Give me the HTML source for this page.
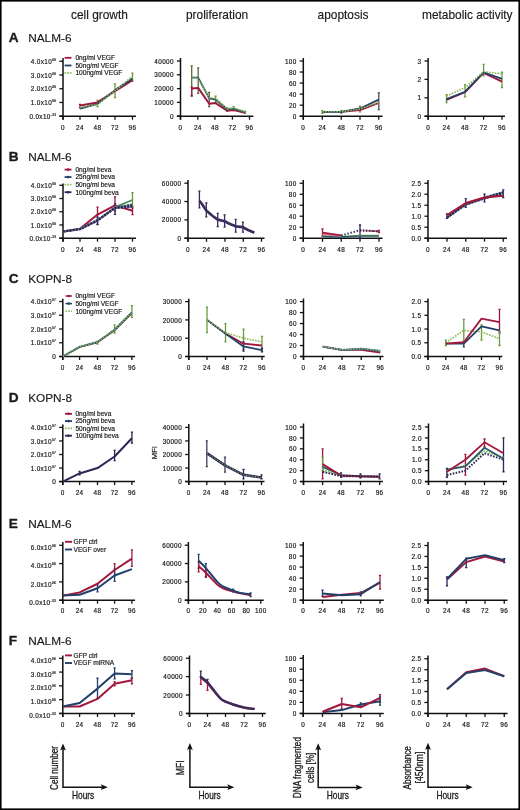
<!DOCTYPE html>
<html><head><meta charset="utf-8"><title>Figure</title>
<style>
html,body{margin:0;padding:0;background:#fff;}
body{width:520px;height:810px;overflow:hidden;}
svg{display:block;filter:blur(0.3px);font-family:"Liberation Sans",sans-serif;}
svg text{fill:#1a1a1a;stroke:#1a1a1a;stroke-width:0.18px;}
.t{letter-spacing:0.35px;}
.h{stroke-width:0.15px;}
.s{stroke-width:0.3px;}
.b{stroke-width:0.35px;}
</style></head><body>
<svg width="520" height="810" viewBox="0 0 520 810">
<rect x="0" y="0" width="520" height="810" fill="#fff"/>
<text x="71" y="18.5" font-size="11.9" class="h">cell growth</text>
<text x="186" y="18.5" font-size="11.9" class="h">proliferation</text>
<text x="317.6" y="18.5" font-size="11.9" class="h">apoptosis</text>
<text x="422" y="18.5" font-size="11.9" class="h">metabolic activity</text>
<text x="8.8" y="41.8" font-size="13.6" font-weight="bold" class="b">A</text>
<text x="28.2" y="41.6" font-size="11.8" class="h">NALM-6</text>
<path d="M63 58V119.7 M59.4 116.2H136" stroke="#111" stroke-width="1.5" fill="none"/>
<path d="M59.4 116.2H63" stroke="#111" stroke-width="1.3"/>
<text x="56.4" y="118.8" text-anchor="end" class="t" font-size="6.4">0.0x10<tspan font-size="3.2" dy="-3">-33</tspan></text>
<path d="M59.4 102.46H63" stroke="#111" stroke-width="1.3"/>
<text x="56.4" y="105.06" text-anchor="end" class="t" font-size="6.4">1.0x10<tspan font-size="3.2" dy="-3">06</tspan></text>
<path d="M59.4 88.72H63" stroke="#111" stroke-width="1.3"/>
<text x="56.4" y="91.32" text-anchor="end" class="t" font-size="6.4">2.0x10<tspan font-size="3.2" dy="-3">06</tspan></text>
<path d="M59.4 74.99H63" stroke="#111" stroke-width="1.3"/>
<text x="56.4" y="77.59" text-anchor="end" class="t" font-size="6.4">3.0x10<tspan font-size="3.2" dy="-3">06</tspan></text>
<path d="M59.4 61.25H63" stroke="#111" stroke-width="1.3"/>
<text x="56.4" y="63.85" text-anchor="end" class="t" font-size="6.4">4.0x10<tspan font-size="3.2" dy="-3">06</tspan></text>
<path d="M63 116.2V119.7" stroke="#111" stroke-width="1.3"/>
<text x="63" y="130" text-anchor="middle" class="t" font-size="6.4">0</text>
<path d="M80 116.2V119.7" stroke="#111" stroke-width="1.3"/>
<text x="80" y="130" text-anchor="middle" class="t" font-size="6.4">24</text>
<path d="M97.5 116.2V119.7" stroke="#111" stroke-width="1.3"/>
<text x="97.5" y="130" text-anchor="middle" class="t" font-size="6.4">48</text>
<path d="M115 116.2V119.7" stroke="#111" stroke-width="1.3"/>
<text x="115" y="130" text-anchor="middle" class="t" font-size="6.4">72</text>
<path d="M132.5 116.2V119.7" stroke="#111" stroke-width="1.3"/>
<text x="132.5" y="130" text-anchor="middle" class="t" font-size="6.4">96</text>
<path d="M80 107.96V104.52 M78.9 107.96H81.1 M78.9 104.52H81.1" stroke="#a1183c" stroke-width="1.3" fill="none"/>
<path d="M97.5 106.58V100.4 M96.4 106.58H98.6 M96.4 100.4H98.6" stroke="#6a9a40" stroke-width="1.3" fill="none"/>
<path d="M115 97.52V83.78 M113.9 97.52H116.1 M113.9 83.78H116.1" stroke="#6a9a40" stroke-width="1.3" fill="none"/>
<path d="M132.5 81.31V73.06 M131.4 81.31H133.6 M131.4 73.06H133.6" stroke="#6a9a40" stroke-width="1.3" fill="none"/>
<path d="M80 105.48 L97.5 102.46 L115 91.2 L132.5 80.21" stroke="#a1183c" stroke-width="2" fill="none" stroke-linejoin="round"/>
<path d="M80 108.64 L97.5 103.84 L115 90.1 L132.5 78.42" stroke="#22406a" stroke-width="1.8" fill="none" stroke-linejoin="round"/>
<path d="M80 107.27 L97.5 104.52 L115 90.79 L132.5 76.36" stroke="#86b84e" stroke-width="1.8" fill="none" stroke-linejoin="round" stroke-dasharray="1.6 1.2"/>
<path d="M64.6 57.8H71.5" stroke="#a1183c" stroke-width="1.8"/>
<text x="75.4" y="60.1" font-size="6.6">0ng/ml VEGF</text>
<path d="M64.6 65.5H71.5" stroke="#22406a" stroke-width="1.8"/>
<text x="75.4" y="67.8" font-size="6.6">50ng/ml VEGF</text>
<path d="M64.6 72.8H71.5" stroke="#86b84e" stroke-width="1.8" stroke-dasharray="1.6 1.2"/>
<text x="75.4" y="75.1" font-size="6.6">100ng/ml VEGF</text>
<path d="M180.5 58V119.7 M176.9 116.2H253.4" stroke="#111" stroke-width="1.5" fill="none"/>
<path d="M176.9 116.2H180.5" stroke="#111" stroke-width="1.3"/>
<text x="173.9" y="118.8" text-anchor="end" class="t" font-size="6.4">0</text>
<path d="M176.9 102.4H180.5" stroke="#111" stroke-width="1.3"/>
<text x="173.9" y="105" text-anchor="end" class="t" font-size="6.4">10000</text>
<path d="M176.9 88.6H180.5" stroke="#111" stroke-width="1.3"/>
<text x="173.9" y="91.2" text-anchor="end" class="t" font-size="6.4">20000</text>
<path d="M176.9 74.8H180.5" stroke="#111" stroke-width="1.3"/>
<text x="173.9" y="77.4" text-anchor="end" class="t" font-size="6.4">30000</text>
<path d="M176.9 61H180.5" stroke="#111" stroke-width="1.3"/>
<text x="173.9" y="63.6" text-anchor="end" class="t" font-size="6.4">40000</text>
<path d="M180.5 116.2V119.7" stroke="#111" stroke-width="1.3"/>
<text x="180.5" y="130" text-anchor="middle" class="t" font-size="6.4">0</text>
<path d="M197.8 116.2V119.7" stroke="#111" stroke-width="1.3"/>
<text x="197.8" y="130" text-anchor="middle" class="t" font-size="6.4">24</text>
<path d="M214.9 116.2V119.7" stroke="#111" stroke-width="1.3"/>
<text x="214.9" y="130" text-anchor="middle" class="t" font-size="6.4">48</text>
<path d="M232.4 116.2V119.7" stroke="#111" stroke-width="1.3"/>
<text x="232.4" y="130" text-anchor="middle" class="t" font-size="6.4">72</text>
<path d="M249.5 116.2V119.7" stroke="#111" stroke-width="1.3"/>
<text x="249.5" y="130" text-anchor="middle" class="t" font-size="6.4">96</text>
<path d="M191.7 95.5V65.97 M190.6 95.5H192.8 M190.6 65.97H192.8" stroke="#5a6a3a" stroke-width="1.3" fill="none"/>
<path d="M198.2 93.43V67.9 M197.1 93.43H199.3 M197.1 67.9H199.3" stroke="#5a6a3a" stroke-width="1.3" fill="none"/>
<path d="M209.2 106.54V92.33 M208.1 106.54H210.3 M208.1 92.33H210.3" stroke="#6a4a3a" stroke-width="1.3" fill="none"/>
<path d="M215.6 102.4V96.19 M214.5 102.4H216.7 M214.5 96.19H216.7" stroke="#6a9a40" stroke-width="1.3" fill="none"/>
<path d="M227.2 111.37V107.92 M226.1 111.37H228.3 M226.1 107.92H228.3" stroke="#6a9a40" stroke-width="1.3" fill="none"/>
<path d="M233.6 110.68V106.54 M232.5 110.68H234.7 M232.5 106.54H234.7" stroke="#6a9a40" stroke-width="1.3" fill="none"/>
<path d="M245.2 113.44V111.37 M244.1 113.44H246.3 M244.1 111.37H246.3" stroke="#6a9a40" stroke-width="1.3" fill="none"/>
<path d="M191.7 96.19V87.22 M190.6 96.19H192.8 M190.6 87.22H192.8" stroke="#a1183c" stroke-width="1.3" fill="none"/>
<path d="M191.7 88.6 L198.2 87.91 L209.2 103.78 L215.6 103.09 L227.2 110.68 L233.6 109.99 L245.2 112.75" stroke="#a1183c" stroke-width="2" fill="none" stroke-linejoin="round"/>
<path d="M191.7 77.56 L198.2 77.56 L209.2 98.26 L215.6 99.64 L227.2 109.3 L233.6 108.61 L245.2 112.06" stroke="#2a5a6a" stroke-width="1.8" fill="none" stroke-linejoin="round"/>
<path d="M191.7 76.87 L198.2 78.94 L209.2 97.57 L215.6 98.26 L227.2 108.61 L233.6 107.92 L245.2 111.78" stroke="#86b84e" stroke-width="1.6" fill="none" stroke-linejoin="round" stroke-dasharray="1.6 1.2"/>
<path d="M303.3 58V119.7 M299.7 116.2H382.6" stroke="#111" stroke-width="1.5" fill="none"/>
<path d="M299.7 116.2H303.3" stroke="#111" stroke-width="1.3"/>
<text x="296.7" y="118.8" text-anchor="end" class="t" font-size="6.4">0</text>
<path d="M299.7 105.16H303.3" stroke="#111" stroke-width="1.3"/>
<text x="296.7" y="107.76" text-anchor="end" class="t" font-size="6.4">20</text>
<path d="M299.7 94.12H303.3" stroke="#111" stroke-width="1.3"/>
<text x="296.7" y="96.72" text-anchor="end" class="t" font-size="6.4">40</text>
<path d="M299.7 83.08H303.3" stroke="#111" stroke-width="1.3"/>
<text x="296.7" y="85.68" text-anchor="end" class="t" font-size="6.4">60</text>
<path d="M299.7 72.04H303.3" stroke="#111" stroke-width="1.3"/>
<text x="296.7" y="74.64" text-anchor="end" class="t" font-size="6.4">80</text>
<path d="M299.7 61H303.3" stroke="#111" stroke-width="1.3"/>
<text x="296.7" y="63.6" text-anchor="end" class="t" font-size="6.4">100</text>
<path d="M303.3 116.2V119.7" stroke="#111" stroke-width="1.3"/>
<text x="303.3" y="130" text-anchor="middle" class="t" font-size="6.4">0</text>
<path d="M322.3 116.2V119.7" stroke="#111" stroke-width="1.3"/>
<text x="322.3" y="130" text-anchor="middle" class="t" font-size="6.4">24</text>
<path d="M341.3 116.2V119.7" stroke="#111" stroke-width="1.3"/>
<text x="341.3" y="130" text-anchor="middle" class="t" font-size="6.4">48</text>
<path d="M360 116.2V119.7" stroke="#111" stroke-width="1.3"/>
<text x="360" y="130" text-anchor="middle" class="t" font-size="6.4">72</text>
<path d="M378.8 116.2V119.7" stroke="#111" stroke-width="1.3"/>
<text x="378.8" y="130" text-anchor="middle" class="t" font-size="6.4">96</text>
<path d="M322.3 113.44V110.68 M321.2 113.44H323.4 M321.2 110.68H323.4" stroke="#6a9a40" stroke-width="1.3" fill="none"/>
<path d="M341.3 113.44V110.68 M340.2 113.44H342.4 M340.2 110.68H342.4" stroke="#6a9a40" stroke-width="1.3" fill="none"/>
<path d="M360 111.78V106.26 M358.9 111.78H361.1 M358.9 106.26H361.1" stroke="#6a9a40" stroke-width="1.3" fill="none"/>
<path d="M378.8 109.58V93.02 M377.7 109.58H379.9 M377.7 93.02H379.9" stroke="#3a5a4a" stroke-width="1.3" fill="none"/>
<path d="M322.3 111.78 L341.3 111.78 L360 110.13 L378.8 102.95" stroke="#a1183c" stroke-width="1.8" fill="none" stroke-linejoin="round"/>
<path d="M322.3 111.78 L341.3 111.78 L360 108.47 L378.8 99.64" stroke="#22406a" stroke-width="1.8" fill="none" stroke-linejoin="round"/>
<path d="M322.3 111.78 L341.3 111.78 L360 109.02 L378.8 102.4" stroke="#86b84e" stroke-width="1.6" fill="none" stroke-linejoin="round" stroke-dasharray="1.6 1.2"/>
<path d="M428.1 58V119.7 M424.5 116.2H505" stroke="#111" stroke-width="1.5" fill="none"/>
<path d="M424.5 116.2H428.1" stroke="#111" stroke-width="1.3"/>
<text x="421.5" y="118.8" text-anchor="end" class="t" font-size="6.4">0</text>
<path d="M424.5 97.8H428.1" stroke="#111" stroke-width="1.3"/>
<text x="421.5" y="100.4" text-anchor="end" class="t" font-size="6.4">1</text>
<path d="M424.5 79.4H428.1" stroke="#111" stroke-width="1.3"/>
<text x="421.5" y="82" text-anchor="end" class="t" font-size="6.4">2</text>
<path d="M424.5 61H428.1" stroke="#111" stroke-width="1.3"/>
<text x="421.5" y="63.6" text-anchor="end" class="t" font-size="6.4">3</text>
<path d="M428.1 116.2V119.7" stroke="#111" stroke-width="1.3"/>
<text x="428.1" y="130" text-anchor="middle" class="t" font-size="6.4">0</text>
<path d="M446.5 116.2V119.7" stroke="#111" stroke-width="1.3"/>
<text x="446.5" y="130" text-anchor="middle" class="t" font-size="6.4">24</text>
<path d="M465 116.2V119.7" stroke="#111" stroke-width="1.3"/>
<text x="465" y="130" text-anchor="middle" class="t" font-size="6.4">48</text>
<path d="M483.6 116.2V119.7" stroke="#111" stroke-width="1.3"/>
<text x="483.6" y="130" text-anchor="middle" class="t" font-size="6.4">72</text>
<path d="M502 116.2V119.7" stroke="#111" stroke-width="1.3"/>
<text x="502" y="130" text-anchor="middle" class="t" font-size="6.4">96</text>
<path d="M446.5 102.58V94.67 M445.4 102.58H447.6 M445.4 94.67H447.6" stroke="#6a9a40" stroke-width="1.3" fill="none"/>
<path d="M465 96.88V84.55 M463.9 96.88H466.1 M463.9 84.55H466.1" stroke="#6a9a40" stroke-width="1.3" fill="none"/>
<path d="M483.6 75.9V64.31 M482.5 75.9H484.7 M482.5 64.31H484.7" stroke="#6a9a40" stroke-width="1.3" fill="none"/>
<path d="M502 87.5V72.04 M500.9 87.5H503.1 M500.9 72.04H503.1" stroke="#6a9a40" stroke-width="1.3" fill="none"/>
<path d="M446.5 100.01 L465 92.28 L483.6 72.96 L502 81.61" stroke="#a1183c" stroke-width="1.8" fill="none" stroke-linejoin="round"/>
<path d="M446.5 99.09 L465 91.73 L483.6 72.41 L502 78.85" stroke="#22406a" stroke-width="1.8" fill="none" stroke-linejoin="round"/>
<path d="M446.5 95.96 L465 87.68 L483.6 71.67 L502 73.88" stroke="#86b84e" stroke-width="1.6" fill="none" stroke-linejoin="round" stroke-dasharray="1.6 1.2"/>
<text x="8.8" y="161" font-size="13.6" font-weight="bold" class="b">B</text>
<text x="28.2" y="160.8" font-size="11.8" class="h">NALM-6</text>
<path d="M63 183.5V241.7 M59.4 238.2H136" stroke="#111" stroke-width="1.5" fill="none"/>
<path d="M59.4 238.2H63" stroke="#111" stroke-width="1.3"/>
<text x="56.4" y="240.8" text-anchor="end" class="t" font-size="6.4">0.0x10<tspan font-size="3.2" dy="-3">-33</tspan></text>
<path d="M59.4 224.97H63" stroke="#111" stroke-width="1.3"/>
<text x="56.4" y="227.57" text-anchor="end" class="t" font-size="6.4">1.0x10<tspan font-size="3.2" dy="-3">06</tspan></text>
<path d="M59.4 211.75H63" stroke="#111" stroke-width="1.3"/>
<text x="56.4" y="214.35" text-anchor="end" class="t" font-size="6.4">2.0x10<tspan font-size="3.2" dy="-3">06</tspan></text>
<path d="M59.4 198.53H63" stroke="#111" stroke-width="1.3"/>
<text x="56.4" y="201.12" text-anchor="end" class="t" font-size="6.4">3.0x10<tspan font-size="3.2" dy="-3">06</tspan></text>
<path d="M59.4 185.3H63" stroke="#111" stroke-width="1.3"/>
<text x="56.4" y="187.9" text-anchor="end" class="t" font-size="6.4">4.0x10<tspan font-size="3.2" dy="-3">06</tspan></text>
<path d="M63 238.2V241.7" stroke="#111" stroke-width="1.3"/>
<text x="63" y="252" text-anchor="middle" class="t" font-size="6.4">0</text>
<path d="M80 238.2V241.7" stroke="#111" stroke-width="1.3"/>
<text x="80" y="252" text-anchor="middle" class="t" font-size="6.4">24</text>
<path d="M97.5 238.2V241.7" stroke="#111" stroke-width="1.3"/>
<text x="97.5" y="252" text-anchor="middle" class="t" font-size="6.4">48</text>
<path d="M115 238.2V241.7" stroke="#111" stroke-width="1.3"/>
<text x="115" y="252" text-anchor="middle" class="t" font-size="6.4">72</text>
<path d="M132.5 238.2V241.7" stroke="#111" stroke-width="1.3"/>
<text x="132.5" y="252" text-anchor="middle" class="t" font-size="6.4">96</text>
<path d="M97.5 224.58V207.12 M96.4 224.58H98.6 M96.4 207.12H98.6" stroke="#a1183c" stroke-width="1.3" fill="none"/>
<path d="M115 210.82V196.81 M113.9 210.82H116.1 M113.9 196.81H116.1" stroke="#a1183c" stroke-width="1.3" fill="none"/>
<path d="M132.5 214.53V207.78 M131.4 214.53H133.6 M131.4 207.78H133.6" stroke="#a1183c" stroke-width="1.3" fill="none"/>
<path d="M132.5 206.46V192.71 M131.4 206.46H133.6 M131.4 192.71H133.6" stroke="#6a9a40" stroke-width="1.3" fill="none"/>
<path d="M97.5 224.31V217.04 M96.4 224.31H98.6 M96.4 217.04H98.6" stroke="#2c2756" stroke-width="1.3" fill="none"/>
<path d="M115 214.4V203.81 M113.9 214.4H116.1 M113.9 203.81H116.1" stroke="#2c2756" stroke-width="1.3" fill="none"/>
<path d="M63 231.59 L80 228.68 L97.5 214.53 L115 205.4 L132.5 210.82" stroke="#a1183c" stroke-width="2" fill="none" stroke-linejoin="round"/>
<path d="M115 207.12 L132.5 199.98" stroke="#4f8a55" stroke-width="1.8" fill="none" stroke-linejoin="round"/>
<path d="M63 231.59 L80 229.07 L97.5 220.35 L115 207.78 L132.5 205.8" stroke="#8a8fa0" stroke-width="2.4" fill="none" stroke-linejoin="round"/>
<path d="M63 231.59 L80 228.94 L97.5 219.95 L115 207.65 L132.5 204.48" stroke="#22406a" stroke-width="2" fill="none" stroke-linejoin="round" stroke-dasharray="2.2 1"/>
<path d="M63 231.59 L80 229.21 L97.5 220.74 L115 208.05 L132.5 206.86" stroke="#2c2756" stroke-width="2" fill="none" stroke-linejoin="round" stroke-dasharray="2.2 1"/>
<path d="M64.6 169.6H71.5" stroke="#a1183c" stroke-width="1.8"/>
<circle cx="68.05" cy="169.6" r="1.3" fill="#a1183c"/>
<text x="75.4" y="171.9" font-size="6.6">0ng/ml beva</text>
<path d="M64.6 177.1H71.5" stroke="#22406a" stroke-width="1.8"/>
<circle cx="68.05" cy="177.1" r="1.3" fill="#22406a"/>
<text x="75.4" y="179.4" font-size="6.6">25ng/ml beva</text>
<path d="M64.6 184.7H71.5" stroke="#86b84e" stroke-width="1.8" stroke-dasharray="1.6 1.2"/>
<text x="75.4" y="187" font-size="6.6">50ng/ml beva</text>
<path d="M64.6 192.2H71.5" stroke="#2c2756" stroke-width="1.8"/>
<circle cx="68.05" cy="192.2" r="1.3" fill="#2c2756"/>
<text x="75.4" y="194.5" font-size="6.6">100ng/ml beva</text>
<path d="M188 180V241.7 M184.4 238.2H264.5" stroke="#111" stroke-width="1.5" fill="none"/>
<path d="M184.4 238.2H188" stroke="#111" stroke-width="1.3"/>
<text x="181.4" y="240.8" text-anchor="end" class="t" font-size="6.4">0</text>
<path d="M184.4 219.87H188" stroke="#111" stroke-width="1.3"/>
<text x="181.4" y="222.47" text-anchor="end" class="t" font-size="6.4">20000</text>
<path d="M184.4 201.53H188" stroke="#111" stroke-width="1.3"/>
<text x="181.4" y="204.13" text-anchor="end" class="t" font-size="6.4">40000</text>
<path d="M184.4 183.2H188" stroke="#111" stroke-width="1.3"/>
<text x="181.4" y="185.8" text-anchor="end" class="t" font-size="6.4">60000</text>
<path d="M188 238.2V241.7" stroke="#111" stroke-width="1.3"/>
<text x="188" y="252" text-anchor="middle" class="t" font-size="6.4">0</text>
<path d="M206.5 238.2V241.7" stroke="#111" stroke-width="1.3"/>
<text x="206.5" y="252" text-anchor="middle" class="t" font-size="6.4">24</text>
<path d="M225 238.2V241.7" stroke="#111" stroke-width="1.3"/>
<text x="225" y="252" text-anchor="middle" class="t" font-size="6.4">48</text>
<path d="M243.25 238.2V241.7" stroke="#111" stroke-width="1.3"/>
<text x="243.25" y="252" text-anchor="middle" class="t" font-size="6.4">72</text>
<path d="M261.5 238.2V241.7" stroke="#111" stroke-width="1.3"/>
<text x="261.5" y="252" text-anchor="middle" class="t" font-size="6.4">96</text>
<path d="M199.4 207.9V191.2 M198.3 207.9H200.5 M198.3 191.2H200.5" stroke="#3a2d5e" stroke-width="1.3" fill="none"/>
<path d="M206.3 216.9V203 M205.2 216.9H207.4 M205.2 203H207.4" stroke="#3a2d5e" stroke-width="1.3" fill="none"/>
<path d="M217.7 226.5V213.4 M216.6 226.5H218.8 M216.6 213.4H218.8" stroke="#3a2d5e" stroke-width="1.3" fill="none"/>
<path d="M224.6 227.2V214.8 M223.5 227.2H225.7 M223.5 214.8H225.7" stroke="#3a2d5e" stroke-width="1.3" fill="none"/>
<path d="M235.7 232.1V219.3 M234.6 232.1H236.8 M234.6 219.3H236.8" stroke="#3a2d5e" stroke-width="1.3" fill="none"/>
<path d="M242.9 232.1V222.1 M241.8 232.1H244 M241.8 222.1H244" stroke="#3a2d5e" stroke-width="1.3" fill="none"/>
<path d="M199.4 200.9 L202 204 L206.3 210.6 L212 215.5 L217.7 219.6 L224.6 221.3 L230 224 L235.7 226.3 L242.9 227.2 L248 230 L254.4 232.8" stroke="#3a2d5e" stroke-width="2.7" fill="none" stroke-linejoin="round"/>
<path d="M303.25 180V241.7 M299.65 238.2H382.5" stroke="#111" stroke-width="1.5" fill="none"/>
<path d="M299.65 238.2H303.25" stroke="#111" stroke-width="1.3"/>
<text x="296.65" y="240.8" text-anchor="end" class="t" font-size="6.4">0</text>
<path d="M299.65 227.21H303.25" stroke="#111" stroke-width="1.3"/>
<text x="296.65" y="229.81" text-anchor="end" class="t" font-size="6.4">20</text>
<path d="M299.65 216.22H303.25" stroke="#111" stroke-width="1.3"/>
<text x="296.65" y="218.82" text-anchor="end" class="t" font-size="6.4">40</text>
<path d="M299.65 205.23H303.25" stroke="#111" stroke-width="1.3"/>
<text x="296.65" y="207.83" text-anchor="end" class="t" font-size="6.4">60</text>
<path d="M299.65 194.24H303.25" stroke="#111" stroke-width="1.3"/>
<text x="296.65" y="196.84" text-anchor="end" class="t" font-size="6.4">80</text>
<path d="M299.65 183.25H303.25" stroke="#111" stroke-width="1.3"/>
<text x="296.65" y="185.85" text-anchor="end" class="t" font-size="6.4">100</text>
<path d="M303.25 238.2V241.7" stroke="#111" stroke-width="1.3"/>
<text x="303.25" y="252" text-anchor="middle" class="t" font-size="6.4">0</text>
<path d="M322.5 238.2V241.7" stroke="#111" stroke-width="1.3"/>
<text x="322.5" y="252" text-anchor="middle" class="t" font-size="6.4">24</text>
<path d="M341.25 238.2V241.7" stroke="#111" stroke-width="1.3"/>
<text x="341.25" y="252" text-anchor="middle" class="t" font-size="6.4">48</text>
<path d="M360 238.2V241.7" stroke="#111" stroke-width="1.3"/>
<text x="360" y="252" text-anchor="middle" class="t" font-size="6.4">72</text>
<path d="M379 238.2V241.7" stroke="#111" stroke-width="1.3"/>
<text x="379" y="252" text-anchor="middle" class="t" font-size="6.4">96</text>
<path d="M322.5 236V228.86 M321.4 236H323.6 M321.4 228.86H323.6" stroke="#a1183c" stroke-width="1.3" fill="none"/>
<path d="M360 238.2V225.01 M358.9 238.2H361.1 M358.9 225.01H361.1" stroke="#2c2756" stroke-width="1.3" fill="none"/>
<path d="M379 232.7V230.51 M377.9 232.7H380.1 M377.9 230.51H380.1" stroke="#a1183c" stroke-width="1.3" fill="none"/>
<path d="M322.5 236 L341.25 236.55 L360 235.45 L379 235.45" stroke="#86b84e" stroke-width="1.4" fill="none" stroke-linejoin="round"/>
<path d="M322.5 236.55 L341.25 237.1 L360 236 L379 236" stroke="#2a5a6a" stroke-width="1.6" fill="none" stroke-linejoin="round"/>
<path d="M322.5 234.35 L341.25 236" stroke="#d77a90" stroke-width="1.6" fill="none" stroke-linejoin="round"/>
<path d="M322.5 232.7 L341.25 235.45" stroke="#a1183c" stroke-width="1.8" fill="none" stroke-linejoin="round"/>
<path d="M360 230.51 L379 231.33" stroke="#a1183c" stroke-width="1.8" fill="none" stroke-linejoin="round" stroke-dasharray="1.5 1.3"/>
<path d="M341.25 235.45 L360 230.23 L379 231.33" stroke="#2c2756" stroke-width="2" fill="none" stroke-linejoin="round" stroke-dasharray="1.4 1.8"/>
<path d="M428 180V241.7 M424.4 238.2H507" stroke="#111" stroke-width="1.5" fill="none"/>
<path d="M424.4 238.2H428" stroke="#111" stroke-width="1.3"/>
<text x="421.4" y="240.8" text-anchor="end" class="t" font-size="6.4">0.0</text>
<path d="M424.4 227.21H428" stroke="#111" stroke-width="1.3"/>
<text x="421.4" y="229.81" text-anchor="end" class="t" font-size="6.4">0.5</text>
<path d="M424.4 216.22H428" stroke="#111" stroke-width="1.3"/>
<text x="421.4" y="218.82" text-anchor="end" class="t" font-size="6.4">1.0</text>
<path d="M424.4 205.23H428" stroke="#111" stroke-width="1.3"/>
<text x="421.4" y="207.83" text-anchor="end" class="t" font-size="6.4">1.5</text>
<path d="M424.4 194.24H428" stroke="#111" stroke-width="1.3"/>
<text x="421.4" y="196.84" text-anchor="end" class="t" font-size="6.4">2.0</text>
<path d="M424.4 183.25H428" stroke="#111" stroke-width="1.3"/>
<text x="421.4" y="185.85" text-anchor="end" class="t" font-size="6.4">2.5</text>
<path d="M428 238.2V241.7" stroke="#111" stroke-width="1.3"/>
<text x="428" y="252" text-anchor="middle" class="t" font-size="6.4">0</text>
<path d="M447 238.2V241.7" stroke="#111" stroke-width="1.3"/>
<text x="447" y="252" text-anchor="middle" class="t" font-size="6.4">24</text>
<path d="M465.75 238.2V241.7" stroke="#111" stroke-width="1.3"/>
<text x="465.75" y="252" text-anchor="middle" class="t" font-size="6.4">48</text>
<path d="M484.5 238.2V241.7" stroke="#111" stroke-width="1.3"/>
<text x="484.5" y="252" text-anchor="middle" class="t" font-size="6.4">72</text>
<path d="M503.25 238.2V241.7" stroke="#111" stroke-width="1.3"/>
<text x="503.25" y="252" text-anchor="middle" class="t" font-size="6.4">96</text>
<path d="M447 218.42V214.02 M445.9 218.42H448.1 M445.9 214.02H448.1" stroke="#2c2756" stroke-width="1.3" fill="none"/>
<path d="M465.75 207.43V198.64 M464.65 207.43H466.85 M464.65 198.64H466.85" stroke="#2c2756" stroke-width="1.3" fill="none"/>
<path d="M484.5 201.93V194.24 M483.4 201.93H485.6 M483.4 194.24H485.6" stroke="#2c2756" stroke-width="1.3" fill="none"/>
<path d="M503.25 197.54V189.84 M502.15 197.54H504.35 M502.15 189.84H504.35" stroke="#2c2756" stroke-width="1.3" fill="none"/>
<path d="M447 216.22 L465.75 203.03 L484.5 197.54 L503.25 193.14" stroke="#86b84e" stroke-width="1.6" fill="none" stroke-linejoin="round" stroke-dasharray="1.6 1.2"/>
<path d="M447 217.54 L465.75 204.35 L484.5 197.98 L503.25 192.7" stroke="#8a8fa0" stroke-width="2.4" fill="none" stroke-linejoin="round"/>
<path d="M447 217.32 L465.75 204.13 L484.5 197.54 L503.25 192.04" stroke="#22406a" stroke-width="2" fill="none" stroke-linejoin="round" stroke-dasharray="2.2 1"/>
<path d="M447 217.76 L465.75 204.57 L484.5 198.64 L503.25 193.14" stroke="#2c2756" stroke-width="2" fill="none" stroke-linejoin="round" stroke-dasharray="2.2 1"/>
<path d="M447 215.12 L465.75 203.03 L484.5 197.54 L503.25 195.78" stroke="#a1183c" stroke-width="2" fill="none" stroke-linejoin="round"/>
<text x="8.8" y="283" font-size="13.6" font-weight="bold" class="b">C</text>
<text x="28.2" y="282.8" font-size="11.8" class="h">KOPN-8</text>
<path d="M62.8 298.8V360 M59.2 356.5H135" stroke="#111" stroke-width="1.5" fill="none"/>
<path d="M59.2 356.5H62.8" stroke="#111" stroke-width="1.3"/>
<text x="56.2" y="359.1" text-anchor="end" class="t" font-size="6.4">0</text>
<path d="M59.2 342.75H62.8" stroke="#111" stroke-width="1.3"/>
<text x="56.2" y="345.35" text-anchor="end" class="t" font-size="6.4">1.0x10<tspan font-size="3.2" dy="-3">07</tspan></text>
<path d="M59.2 329H62.8" stroke="#111" stroke-width="1.3"/>
<text x="56.2" y="331.6" text-anchor="end" class="t" font-size="6.4">2.0x10<tspan font-size="3.2" dy="-3">07</tspan></text>
<path d="M59.2 315.25H62.8" stroke="#111" stroke-width="1.3"/>
<text x="56.2" y="317.85" text-anchor="end" class="t" font-size="6.4">3.0x10<tspan font-size="3.2" dy="-3">07</tspan></text>
<path d="M59.2 301.5H62.8" stroke="#111" stroke-width="1.3"/>
<text x="56.2" y="304.1" text-anchor="end" class="t" font-size="6.4">4.0x10<tspan font-size="3.2" dy="-3">07</tspan></text>
<path d="M62.8 356.5V360" stroke="#111" stroke-width="1.3"/>
<text x="62.8" y="370.3" text-anchor="middle" class="t" font-size="6.4">0</text>
<path d="M79.6 356.5V360" stroke="#111" stroke-width="1.3"/>
<text x="79.6" y="370.3" text-anchor="middle" class="t" font-size="6.4">24</text>
<path d="M97.5 356.5V360" stroke="#111" stroke-width="1.3"/>
<text x="97.5" y="370.3" text-anchor="middle" class="t" font-size="6.4">48</text>
<path d="M114.6 356.5V360" stroke="#111" stroke-width="1.3"/>
<text x="114.6" y="370.3" text-anchor="middle" class="t" font-size="6.4">72</text>
<path d="M131.9 356.5V360" stroke="#111" stroke-width="1.3"/>
<text x="131.9" y="370.3" text-anchor="middle" class="t" font-size="6.4">96</text>
<path d="M114.6 333.12V324.88 M113.5 333.12H115.7 M113.5 324.88H115.7" stroke="#6a9a40" stroke-width="1.3" fill="none"/>
<path d="M131.9 317.31V305.62 M130.8 317.31H133 M130.8 305.62H133" stroke="#6a9a40" stroke-width="1.3" fill="none"/>
<path d="M97.5 344.12V341.38 M96.4 344.12H98.6 M96.4 341.38H98.6" stroke="#6a9a40" stroke-width="1.3" fill="none"/>
<path d="M62.8 356.5 L79.6 347.15 L97.5 342.48 L114.6 330.38 L131.9 313.19" stroke="#a1183c" stroke-width="1.4" fill="none" stroke-linejoin="round"/>
<path d="M62.8 356.5 L79.6 346.88 L97.5 342.06 L114.6 329.69 L131.9 312.5" stroke="#2a5a6a" stroke-width="2" fill="none" stroke-linejoin="round"/>
<path d="M62.8 356.5 L79.6 346.88 L97.5 342.06 L114.6 329.69 L131.9 312.5" stroke="#86b84e" stroke-width="1.4" fill="none" stroke-linejoin="round" stroke-dasharray="1.6 1.2"/>
<path d="M65.5 296H72" stroke="#a1183c" stroke-width="1.5"/>
<circle cx="68.75" cy="296" r="1.3" fill="#a1183c"/>
<text x="75.4" y="298.3" font-size="6.6">0ng/ml VEGF</text>
<path d="M65.5 303.6H72" stroke="#22406a" stroke-width="1.5"/>
<circle cx="68.75" cy="303.6" r="1.3" fill="#22406a"/>
<text x="75.4" y="305.9" font-size="6.6">50ng/ml VEGF</text>
<path d="M65.5 311.3H72" stroke="#86b84e" stroke-width="1.5" stroke-dasharray="1.6 1.2"/>
<text x="75.4" y="313.6" font-size="6.6">100ng/ml VEGF</text>
<path d="M188.8 298.8V360 M185.2 356.5H264.7" stroke="#111" stroke-width="1.5" fill="none"/>
<path d="M185.2 356.5H188.8" stroke="#111" stroke-width="1.3"/>
<text x="182.2" y="359.1" text-anchor="end" class="t" font-size="6.4">0</text>
<path d="M185.2 338.2H188.8" stroke="#111" stroke-width="1.3"/>
<text x="182.2" y="340.8" text-anchor="end" class="t" font-size="6.4">10000</text>
<path d="M185.2 319.9H188.8" stroke="#111" stroke-width="1.3"/>
<text x="182.2" y="322.5" text-anchor="end" class="t" font-size="6.4">20000</text>
<path d="M185.2 301.6H188.8" stroke="#111" stroke-width="1.3"/>
<text x="182.2" y="304.2" text-anchor="end" class="t" font-size="6.4">30000</text>
<path d="M188.8 356.5V360" stroke="#111" stroke-width="1.3"/>
<text x="188.8" y="370.3" text-anchor="middle" class="t" font-size="6.4">0</text>
<path d="M207 356.5V360" stroke="#111" stroke-width="1.3"/>
<text x="207" y="370.3" text-anchor="middle" class="t" font-size="6.4">24</text>
<path d="M225.5 356.5V360" stroke="#111" stroke-width="1.3"/>
<text x="225.5" y="370.3" text-anchor="middle" class="t" font-size="6.4">48</text>
<path d="M243.5 356.5V360" stroke="#111" stroke-width="1.3"/>
<text x="243.5" y="370.3" text-anchor="middle" class="t" font-size="6.4">72</text>
<path d="M262 356.5V360" stroke="#111" stroke-width="1.3"/>
<text x="262" y="370.3" text-anchor="middle" class="t" font-size="6.4">96</text>
<path d="M207 332.71V307.09 M205.9 332.71H208.1 M205.9 307.09H208.1" stroke="#6a9a40" stroke-width="1.3" fill="none"/>
<path d="M225.5 341.86V323.56 M224.4 341.86H226.6 M224.4 323.56H226.6" stroke="#6a9a40" stroke-width="1.3" fill="none"/>
<path d="M243.5 349.18V329.05 M242.4 349.18H244.6 M242.4 329.05H244.6" stroke="#6a9a40" stroke-width="1.3" fill="none"/>
<path d="M262 351.01V336.37 M260.9 351.01H263.1 M260.9 336.37H263.1" stroke="#6a9a40" stroke-width="1.3" fill="none"/>
<path d="M243.5 351.01V341.86 M242.4 351.01H244.6 M242.4 341.86H244.6" stroke="#2c2756" stroke-width="1.3" fill="none"/>
<path d="M262 351.93V348.26 M260.9 351.93H263.1 M260.9 348.26H263.1" stroke="#2c2756" stroke-width="1.3" fill="none"/>
<path d="M207 319.9 L225.5 333.62 L243.5 343.69 L262 345.52" stroke="#a1183c" stroke-width="1.8" fill="none" stroke-linejoin="round"/>
<path d="M207 319.9 L225.5 333.62 L243.5 346.44 L262 350.09" stroke="#22406a" stroke-width="1.8" fill="none" stroke-linejoin="round"/>
<path d="M207 319.9 L225.5 332.71 L243.5 338.2 L262 341.86" stroke="#86b84e" stroke-width="1.6" fill="none" stroke-linejoin="round" stroke-dasharray="1.6 1.2"/>
<path d="M303.5 298.4V360 M299.9 356.5H383.5" stroke="#111" stroke-width="1.5" fill="none"/>
<path d="M299.9 356.5H303.5" stroke="#111" stroke-width="1.3"/>
<text x="296.9" y="359.1" text-anchor="end" class="t" font-size="6.4">0</text>
<path d="M299.9 345.52H303.5" stroke="#111" stroke-width="1.3"/>
<text x="296.9" y="348.12" text-anchor="end" class="t" font-size="6.4">20</text>
<path d="M299.9 334.54H303.5" stroke="#111" stroke-width="1.3"/>
<text x="296.9" y="337.14" text-anchor="end" class="t" font-size="6.4">40</text>
<path d="M299.9 323.56H303.5" stroke="#111" stroke-width="1.3"/>
<text x="296.9" y="326.16" text-anchor="end" class="t" font-size="6.4">60</text>
<path d="M299.9 312.58H303.5" stroke="#111" stroke-width="1.3"/>
<text x="296.9" y="315.18" text-anchor="end" class="t" font-size="6.4">80</text>
<path d="M299.9 301.6H303.5" stroke="#111" stroke-width="1.3"/>
<text x="296.9" y="304.2" text-anchor="end" class="t" font-size="6.4">100</text>
<path d="M303.5 356.5V360" stroke="#111" stroke-width="1.3"/>
<text x="303.5" y="370.3" text-anchor="middle" class="t" font-size="6.4">0</text>
<path d="M322.6 356.5V360" stroke="#111" stroke-width="1.3"/>
<text x="322.6" y="370.3" text-anchor="middle" class="t" font-size="6.4">24</text>
<path d="M342 356.5V360" stroke="#111" stroke-width="1.3"/>
<text x="342" y="370.3" text-anchor="middle" class="t" font-size="6.4">48</text>
<path d="M361.2 356.5V360" stroke="#111" stroke-width="1.3"/>
<text x="361.2" y="370.3" text-anchor="middle" class="t" font-size="6.4">72</text>
<path d="M380.3 356.5V360" stroke="#111" stroke-width="1.3"/>
<text x="380.3" y="370.3" text-anchor="middle" class="t" font-size="6.4">96</text>
<path d="M322.6 346.62 L342 349.91 L361.2 349.91 L380.3 352.66" stroke="#a1183c" stroke-width="1.8" fill="none" stroke-linejoin="round"/>
<path d="M322.6 346.62 L342 349.91 L361.2 348.81 L380.3 351.01" stroke="#2a5a6a" stroke-width="2" fill="none" stroke-linejoin="round"/>
<path d="M322.6 346.62 L342 349.91 L361.2 348.54 L380.3 350.74" stroke="#9ab58a" stroke-width="1.4" fill="none" stroke-linejoin="round" stroke-dasharray="1.6 1.2"/>
<path d="M428 298.4V360 M424.4 356.5H502.3" stroke="#111" stroke-width="1.5" fill="none"/>
<path d="M424.4 356.5H428" stroke="#111" stroke-width="1.3"/>
<text x="421.4" y="359.1" text-anchor="end" class="t" font-size="6.4">0.0</text>
<path d="M424.4 342.77H428" stroke="#111" stroke-width="1.3"/>
<text x="421.4" y="345.38" text-anchor="end" class="t" font-size="6.4">0.5</text>
<path d="M424.4 329.05H428" stroke="#111" stroke-width="1.3"/>
<text x="421.4" y="331.65" text-anchor="end" class="t" font-size="6.4">1.0</text>
<path d="M424.4 315.33H428" stroke="#111" stroke-width="1.3"/>
<text x="421.4" y="317.93" text-anchor="end" class="t" font-size="6.4">1.5</text>
<path d="M424.4 301.6H428" stroke="#111" stroke-width="1.3"/>
<text x="421.4" y="304.2" text-anchor="end" class="t" font-size="6.4">2.0</text>
<path d="M428 356.5V360" stroke="#111" stroke-width="1.3"/>
<text x="428" y="370.3" text-anchor="middle" class="t" font-size="6.4">0</text>
<path d="M445.8 356.5V360" stroke="#111" stroke-width="1.3"/>
<text x="445.8" y="370.3" text-anchor="middle" class="t" font-size="6.4">24</text>
<path d="M463.8 356.5V360" stroke="#111" stroke-width="1.3"/>
<text x="463.8" y="370.3" text-anchor="middle" class="t" font-size="6.4">48</text>
<path d="M481.5 356.5V360" stroke="#111" stroke-width="1.3"/>
<text x="481.5" y="370.3" text-anchor="middle" class="t" font-size="6.4">72</text>
<path d="M499.5 356.5V360" stroke="#111" stroke-width="1.3"/>
<text x="499.5" y="370.3" text-anchor="middle" class="t" font-size="6.4">96</text>
<path d="M499.5 333.17V309.29 M498.4 333.17H500.6 M498.4 309.29H500.6" stroke="#a1183c" stroke-width="1.3" fill="none"/>
<path d="M463.8 346.89V341.4 M462.7 346.89H464.9 M462.7 341.4H464.9" stroke="#22406a" stroke-width="1.3" fill="none"/>
<path d="M463.8 341.4V319.44 M462.7 341.4H464.9 M462.7 319.44H464.9" stroke="#6a9a40" stroke-width="1.3" fill="none"/>
<path d="M481.5 340.03V324.93 M480.4 340.03H482.6 M480.4 324.93H482.6" stroke="#6a9a40" stroke-width="1.3" fill="none"/>
<path d="M499.5 345.52V331.8 M498.4 345.52H500.6 M498.4 331.8H500.6" stroke="#6a9a40" stroke-width="1.3" fill="none"/>
<path d="M445.8 345.52V340.03 M444.7 345.52H446.9 M444.7 340.03H446.9" stroke="#6a9a40" stroke-width="1.3" fill="none"/>
<path d="M445.8 342.77 L463.8 330.42 L481.5 331.8 L499.5 338.66" stroke="#86b84e" stroke-width="1.6" fill="none" stroke-linejoin="round" stroke-dasharray="1.6 1.2"/>
<path d="M445.8 343.6 L463.8 343.6 L481.5 326.31 L499.5 330.42" stroke="#22406a" stroke-width="1.8" fill="none" stroke-linejoin="round"/>
<path d="M445.8 343.6 L463.8 342.23 L481.5 318.62 L499.5 322.19" stroke="#a1183c" stroke-width="1.8" fill="none" stroke-linejoin="round"/>
<text x="8.8" y="401.8" font-size="13.6" font-weight="bold" class="b">D</text>
<text x="28.2" y="401.6" font-size="11.8" class="h">KOPN-8</text>
<path d="M62.8 424.6V485.1 M59.2 481.6H135" stroke="#111" stroke-width="1.5" fill="none"/>
<path d="M59.2 481.6H62.8" stroke="#111" stroke-width="1.3"/>
<text x="56.2" y="484.2" text-anchor="end" class="t" font-size="6.4">0</text>
<path d="M59.2 468.05H62.8" stroke="#111" stroke-width="1.3"/>
<text x="56.2" y="470.65" text-anchor="end" class="t" font-size="6.4">1.0x10<tspan font-size="3.2" dy="-3">07</tspan></text>
<path d="M59.2 454.5H62.8" stroke="#111" stroke-width="1.3"/>
<text x="56.2" y="457.1" text-anchor="end" class="t" font-size="6.4">2.0x10<tspan font-size="3.2" dy="-3">07</tspan></text>
<path d="M59.2 440.95H62.8" stroke="#111" stroke-width="1.3"/>
<text x="56.2" y="443.55" text-anchor="end" class="t" font-size="6.4">3.0x10<tspan font-size="3.2" dy="-3">07</tspan></text>
<path d="M59.2 427.4H62.8" stroke="#111" stroke-width="1.3"/>
<text x="56.2" y="430" text-anchor="end" class="t" font-size="6.4">4.0x10<tspan font-size="3.2" dy="-3">07</tspan></text>
<path d="M62.8 481.6V485.1" stroke="#111" stroke-width="1.3"/>
<text x="62.8" y="495.4" text-anchor="middle" class="t" font-size="6.4">0</text>
<path d="M79.6 481.6V485.1" stroke="#111" stroke-width="1.3"/>
<text x="79.6" y="495.4" text-anchor="middle" class="t" font-size="6.4">24</text>
<path d="M97.5 481.6V485.1" stroke="#111" stroke-width="1.3"/>
<text x="97.5" y="495.4" text-anchor="middle" class="t" font-size="6.4">48</text>
<path d="M114.6 481.6V485.1" stroke="#111" stroke-width="1.3"/>
<text x="114.6" y="495.4" text-anchor="middle" class="t" font-size="6.4">72</text>
<path d="M131.9 481.6V485.1" stroke="#111" stroke-width="1.3"/>
<text x="131.9" y="495.4" text-anchor="middle" class="t" font-size="6.4">96</text>
<path d="M114.6 460.6V450.44 M113.5 460.6H115.7 M113.5 450.44H115.7" stroke="#2c2756" stroke-width="1.3" fill="none"/>
<path d="M131.9 442.98V432.14 M130.8 442.98H133 M130.8 432.14H133" stroke="#2c2756" stroke-width="1.3" fill="none"/>
<path d="M79.6 474.83V471.44 M78.5 474.83H80.7 M78.5 471.44H80.7" stroke="#2c2756" stroke-width="1.3" fill="none"/>
<path d="M62.8 481.6 L79.6 473.47 L97.5 468.05 L114.6 456.53 L131.9 438.24" stroke="#2c2756" stroke-width="2" fill="none" stroke-linejoin="round"/>
<path d="M65 413.8H72" stroke="#a1183c" stroke-width="1.8"/>
<circle cx="68.5" cy="413.8" r="1.3" fill="#a1183c"/>
<text x="75.4" y="416.1" font-size="6.6">0ng/ml beva</text>
<path d="M65 421.1H72" stroke="#22406a" stroke-width="1.8"/>
<circle cx="68.5" cy="421.1" r="1.3" fill="#22406a"/>
<text x="75.4" y="423.4" font-size="6.6">25ng/ml beva</text>
<path d="M65 428.4H72" stroke="#86b84e" stroke-width="1.8" stroke-dasharray="1.6 1.2"/>
<text x="75.4" y="430.7" font-size="6.6">50ng/ml beva</text>
<path d="M65 435.7H72" stroke="#2c2756" stroke-width="1.8"/>
<circle cx="68.5" cy="435.7" r="1.3" fill="#2c2756"/>
<text x="75.4" y="438" font-size="6.6">100ng/ml beva</text>
<path d="M188.8 423.9V485.1 M185.2 481.6H264.5" stroke="#111" stroke-width="1.5" fill="none"/>
<path d="M185.2 481.6H188.8" stroke="#111" stroke-width="1.3"/>
<text x="182.2" y="484.2" text-anchor="end" class="t" font-size="6.4">0</text>
<path d="M185.2 468.05H188.8" stroke="#111" stroke-width="1.3"/>
<text x="182.2" y="470.65" text-anchor="end" class="t" font-size="6.4">10000</text>
<path d="M185.2 454.5H188.8" stroke="#111" stroke-width="1.3"/>
<text x="182.2" y="457.1" text-anchor="end" class="t" font-size="6.4">20000</text>
<path d="M185.2 440.95H188.8" stroke="#111" stroke-width="1.3"/>
<text x="182.2" y="443.55" text-anchor="end" class="t" font-size="6.4">30000</text>
<path d="M185.2 427.4H188.8" stroke="#111" stroke-width="1.3"/>
<text x="182.2" y="430" text-anchor="end" class="t" font-size="6.4">40000</text>
<path d="M188.8 481.6V485.1" stroke="#111" stroke-width="1.3"/>
<text x="188.8" y="495.4" text-anchor="middle" class="t" font-size="6.4">0</text>
<path d="M206.8 481.6V485.1" stroke="#111" stroke-width="1.3"/>
<text x="206.8" y="495.4" text-anchor="middle" class="t" font-size="6.4">24</text>
<path d="M225 481.6V485.1" stroke="#111" stroke-width="1.3"/>
<text x="225" y="495.4" text-anchor="middle" class="t" font-size="6.4">48</text>
<path d="M243.5 481.6V485.1" stroke="#111" stroke-width="1.3"/>
<text x="243.5" y="495.4" text-anchor="middle" class="t" font-size="6.4">72</text>
<path d="M261.5 481.6V485.1" stroke="#111" stroke-width="1.3"/>
<text x="261.5" y="495.4" text-anchor="middle" class="t" font-size="6.4">96</text>
<path d="M206.8 466.69V440.95 M205.7 466.69H207.9 M205.7 440.95H207.9" stroke="#4a3a5a" stroke-width="1.3" fill="none"/>
<path d="M225 472.12V457.21 M223.9 472.12H226.1 M223.9 457.21H226.1" stroke="#4a3a5a" stroke-width="1.3" fill="none"/>
<path d="M243.5 478.89V469.41 M242.4 478.89H244.6 M242.4 469.41H244.6" stroke="#2c2756" stroke-width="1.3" fill="none"/>
<path d="M261.5 478.89V474.83 M260.4 478.89H262.6 M260.4 474.83H262.6" stroke="#2c2756" stroke-width="1.3" fill="none"/>
<path d="M206.8 453.14 L225 465.34 L243.5 474.83 L261.5 477.54" stroke="#2c2756" stroke-width="2.6" fill="none" stroke-linejoin="round"/>
<path d="M206.8 453.14 L225 465.34 L243.5 474.83 L261.5 477.54" stroke="#86b84e" stroke-width="1.0" fill="none" stroke-linejoin="round" stroke-dasharray="1.5 1.5"/>
<text transform="translate(156.7 452.8) rotate(-90)" text-anchor="middle" font-size="7.9">MFI</text>
<path d="M303.5 423.5V485.1 M299.9 481.6H383" stroke="#111" stroke-width="1.5" fill="none"/>
<path d="M299.9 481.6H303.5" stroke="#111" stroke-width="1.3"/>
<text x="296.9" y="484.2" text-anchor="end" class="t" font-size="6.4">0</text>
<path d="M299.9 470.68H303.5" stroke="#111" stroke-width="1.3"/>
<text x="296.9" y="473.28" text-anchor="end" class="t" font-size="6.4">20</text>
<path d="M299.9 459.76H303.5" stroke="#111" stroke-width="1.3"/>
<text x="296.9" y="462.36" text-anchor="end" class="t" font-size="6.4">40</text>
<path d="M299.9 448.84H303.5" stroke="#111" stroke-width="1.3"/>
<text x="296.9" y="451.44" text-anchor="end" class="t" font-size="6.4">60</text>
<path d="M299.9 437.92H303.5" stroke="#111" stroke-width="1.3"/>
<text x="296.9" y="440.52" text-anchor="end" class="t" font-size="6.4">80</text>
<path d="M299.9 427H303.5" stroke="#111" stroke-width="1.3"/>
<text x="296.9" y="429.6" text-anchor="end" class="t" font-size="6.4">100</text>
<path d="M303.5 481.6V485.1" stroke="#111" stroke-width="1.3"/>
<text x="303.5" y="495.4" text-anchor="middle" class="t" font-size="6.4">0</text>
<path d="M322.6 481.6V485.1" stroke="#111" stroke-width="1.3"/>
<text x="322.6" y="495.4" text-anchor="middle" class="t" font-size="6.4">24</text>
<path d="M341.1 481.6V485.1" stroke="#111" stroke-width="1.3"/>
<text x="341.1" y="495.4" text-anchor="middle" class="t" font-size="6.4">48</text>
<path d="M360.5 481.6V485.1" stroke="#111" stroke-width="1.3"/>
<text x="360.5" y="495.4" text-anchor="middle" class="t" font-size="6.4">72</text>
<path d="M379.6 481.6V485.1" stroke="#111" stroke-width="1.3"/>
<text x="379.6" y="495.4" text-anchor="middle" class="t" font-size="6.4">96</text>
<path d="M322.6 478.87V448.84 M321.5 478.87H323.7 M321.5 448.84H323.7" stroke="#a1183c" stroke-width="1.3" fill="none"/>
<path d="M322.6 470.68V457.03 M321.5 470.68H323.7 M321.5 457.03H323.7" stroke="#6a9a40" stroke-width="1.3" fill="none"/>
<path d="M341.1 477.23V472.86 M340 477.23H342.2 M340 472.86H342.2" stroke="#2c2756" stroke-width="1.3" fill="none"/>
<path d="M360.5 477.78V473.96 M359.4 477.78H361.6 M359.4 473.96H361.6" stroke="#2c2756" stroke-width="1.3" fill="none"/>
<path d="M379.6 478.87V473.96 M378.5 478.87H380.7 M378.5 473.96H380.7" stroke="#2c2756" stroke-width="1.3" fill="none"/>
<path d="M322.6 469.59 L341.1 475.59 L360.5 476.14 L379.6 476.69" stroke="#86b84e" stroke-width="1.6" fill="none" stroke-linejoin="round" stroke-dasharray="1.6 1.2"/>
<path d="M322.6 466.86 L341.1 475.05 L360.5 476.14 L379.6 476.69" stroke="#2a5a6a" stroke-width="1.8" fill="none" stroke-linejoin="round"/>
<path d="M322.6 464.13 L341.1 475.59 L360.5 476.41 L379.6 476.96" stroke="#a1183c" stroke-width="1.8" fill="none" stroke-linejoin="round"/>
<path d="M322.6 471.77 L341.1 476.14 L360.5 476.41 L379.6 476.58" stroke="#2c2756" stroke-width="2" fill="none" stroke-linejoin="round" stroke-dasharray="1.8 1.2"/>
<path d="M428.5 423.5V485.1 M424.9 481.6H507" stroke="#111" stroke-width="1.5" fill="none"/>
<path d="M424.9 481.6H428.5" stroke="#111" stroke-width="1.3"/>
<text x="421.9" y="484.2" text-anchor="end" class="t" font-size="6.4">0.0</text>
<path d="M424.9 470.68H428.5" stroke="#111" stroke-width="1.3"/>
<text x="421.9" y="473.28" text-anchor="end" class="t" font-size="6.4">0.5</text>
<path d="M424.9 459.76H428.5" stroke="#111" stroke-width="1.3"/>
<text x="421.9" y="462.36" text-anchor="end" class="t" font-size="6.4">1.0</text>
<path d="M424.9 448.84H428.5" stroke="#111" stroke-width="1.3"/>
<text x="421.9" y="451.44" text-anchor="end" class="t" font-size="6.4">1.5</text>
<path d="M424.9 437.92H428.5" stroke="#111" stroke-width="1.3"/>
<text x="421.9" y="440.52" text-anchor="end" class="t" font-size="6.4">2.0</text>
<path d="M424.9 427H428.5" stroke="#111" stroke-width="1.3"/>
<text x="421.9" y="429.6" text-anchor="end" class="t" font-size="6.4">2.5</text>
<path d="M428.5 481.6V485.1" stroke="#111" stroke-width="1.3"/>
<text x="428.5" y="495.4" text-anchor="middle" class="t" font-size="6.4">0</text>
<path d="M446.9 481.6V485.1" stroke="#111" stroke-width="1.3"/>
<text x="446.9" y="495.4" text-anchor="middle" class="t" font-size="6.4">24</text>
<path d="M465.4 481.6V485.1" stroke="#111" stroke-width="1.3"/>
<text x="465.4" y="495.4" text-anchor="middle" class="t" font-size="6.4">48</text>
<path d="M484.5 481.6V485.1" stroke="#111" stroke-width="1.3"/>
<text x="484.5" y="495.4" text-anchor="middle" class="t" font-size="6.4">72</text>
<path d="M503.5 481.6V485.1" stroke="#111" stroke-width="1.3"/>
<text x="503.5" y="495.4" text-anchor="middle" class="t" font-size="6.4">96</text>
<path d="M446.9 477.23V468.5 M445.8 477.23H448 M445.8 468.5H448" stroke="#2c2756" stroke-width="1.3" fill="none"/>
<path d="M465.4 475.05V454.3 M464.3 475.05H466.5 M464.3 454.3H466.5" stroke="#a1183c" stroke-width="1.3" fill="none"/>
<path d="M484.5 446.66V439.01 M483.4 446.66H485.6 M483.4 439.01H485.6" stroke="#a1183c" stroke-width="1.3" fill="none"/>
<path d="M503.5 471.77V437.92 M502.4 471.77H504.6 M502.4 437.92H504.6" stroke="#2c2756" stroke-width="1.3" fill="none"/>
<path d="M446.9 475.05 L465.4 470.68 L484.5 453.21 L503.5 459.76" stroke="#2c2756" stroke-width="2" fill="none" stroke-linejoin="round" stroke-dasharray="1.6 1.4"/>
<path d="M446.9 470.68 L465.4 465.22 L484.5 451.02 L503.5 457.58" stroke="#86b84e" stroke-width="1.6" fill="none" stroke-linejoin="round" stroke-dasharray="1.6 1.2"/>
<path d="M446.9 469.59 L465.4 466.31 L484.5 447.75 L503.5 458.67" stroke="#2a5a6a" stroke-width="1.8" fill="none" stroke-linejoin="round"/>
<path d="M446.9 471.77 L465.4 459.76 L484.5 442.29 L503.5 453.21" stroke="#a1183c" stroke-width="1.8" fill="none" stroke-linejoin="round"/>
<text x="8.8" y="528.2" font-size="13.6" font-weight="bold" class="b">E</text>
<text x="28.2" y="528" font-size="11.8" class="h">NALM-6</text>
<path d="M62.8 542V603.7 M59.2 600.2H135" stroke="#111" stroke-width="1.5" fill="none"/>
<path d="M59.2 600.2H62.8" stroke="#111" stroke-width="1.3"/>
<text x="56.2" y="604.8" text-anchor="end" class="t" font-size="6.4">0.0x10<tspan font-size="3.2" dy="-3">-33</tspan></text>
<path d="M59.2 581.9H62.8" stroke="#111" stroke-width="1.3"/>
<text x="56.2" y="586.5" text-anchor="end" class="t" font-size="6.4">2.0x10<tspan font-size="3.2" dy="-3">06</tspan></text>
<path d="M59.2 563.6H62.8" stroke="#111" stroke-width="1.3"/>
<text x="56.2" y="568.2" text-anchor="end" class="t" font-size="6.4">4.0x10<tspan font-size="3.2" dy="-3">06</tspan></text>
<path d="M59.2 545.3H62.8" stroke="#111" stroke-width="1.3"/>
<text x="56.2" y="549.9" text-anchor="end" class="t" font-size="6.4">6.0x10<tspan font-size="3.2" dy="-3">06</tspan></text>
<path d="M62.8 600.2V603.7" stroke="#111" stroke-width="1.3"/>
<text x="62.8" y="612.6" text-anchor="middle" class="t" font-size="6.4">0</text>
<path d="M79.6 600.2V603.7" stroke="#111" stroke-width="1.3"/>
<text x="79.6" y="612.6" text-anchor="middle" class="t" font-size="6.4">24</text>
<path d="M97.5 600.2V603.7" stroke="#111" stroke-width="1.3"/>
<text x="97.5" y="612.6" text-anchor="middle" class="t" font-size="6.4">48</text>
<path d="M114.6 600.2V603.7" stroke="#111" stroke-width="1.3"/>
<text x="114.6" y="612.6" text-anchor="middle" class="t" font-size="6.4">72</text>
<path d="M131.9 600.2V603.7" stroke="#111" stroke-width="1.3"/>
<text x="131.9" y="612.6" text-anchor="middle" class="t" font-size="6.4">96</text>
<path d="M114.6 575.95V563.6 M113.5 575.95H115.7 M113.5 563.6H115.7" stroke="#a1183c" stroke-width="1.3" fill="none"/>
<path d="M131.9 566.35V549.88 M130.8 566.35H133 M130.8 549.88H133" stroke="#a1183c" stroke-width="1.3" fill="none"/>
<path d="M114.6 581.44V569.09 M113.5 581.44H115.7 M113.5 569.09H115.7" stroke="#22406a" stroke-width="1.3" fill="none"/>
<path d="M97.5 591.97V584.64 M96.4 591.97H98.6 M96.4 584.64H98.6" stroke="#22406a" stroke-width="1.3" fill="none"/>
<path d="M62.8 595.62 L79.6 592.42 L97.5 583.73 L114.6 570 L131.9 558.57" stroke="#a1183c" stroke-width="2" fill="none" stroke-linejoin="round"/>
<path d="M62.8 595.62 L79.6 594.71 L97.5 588.3 L114.6 575.5 L131.9 569.09" stroke="#22406a" stroke-width="2" fill="none" stroke-linejoin="round"/>
<path d="M65 541.8H72" stroke="#a1183c" stroke-width="1.9"/>
<text x="73.5" y="544.1" font-size="6.6">GFP ctrl</text>
<path d="M65 549.5H72" stroke="#22406a" stroke-width="1.9"/>
<text x="73.5" y="551.8" font-size="6.6">VEGF over</text>
<path d="M188.4 542V603.7 M184.8 600.2H263.75" stroke="#111" stroke-width="1.5" fill="none"/>
<path d="M184.8 600.2H188.4" stroke="#111" stroke-width="1.3"/>
<text x="181.8" y="602.8" text-anchor="end" class="t" font-size="6.4">0</text>
<path d="M184.8 581.87H188.4" stroke="#111" stroke-width="1.3"/>
<text x="181.8" y="584.47" text-anchor="end" class="t" font-size="6.4">20000</text>
<path d="M184.8 563.53H188.4" stroke="#111" stroke-width="1.3"/>
<text x="181.8" y="566.13" text-anchor="end" class="t" font-size="6.4">40000</text>
<path d="M184.8 545.2H188.4" stroke="#111" stroke-width="1.3"/>
<text x="181.8" y="547.8" text-anchor="end" class="t" font-size="6.4">60000</text>
<path d="M188.4 600.2V603.7" stroke="#111" stroke-width="1.3"/>
<text x="188.4" y="612.6" text-anchor="middle" class="t" font-size="6.4">0</text>
<path d="M203 600.2V603.7" stroke="#111" stroke-width="1.3"/>
<text x="203" y="612.6" text-anchor="middle" class="t" font-size="6.4">20</text>
<path d="M217.3 600.2V603.7" stroke="#111" stroke-width="1.3"/>
<text x="217.3" y="612.6" text-anchor="middle" class="t" font-size="6.4">40</text>
<path d="M231.7 600.2V603.7" stroke="#111" stroke-width="1.3"/>
<text x="231.7" y="612.6" text-anchor="middle" class="t" font-size="6.4">60</text>
<path d="M246.3 600.2V603.7" stroke="#111" stroke-width="1.3"/>
<text x="246.3" y="612.6" text-anchor="middle" class="t" font-size="6.4">80</text>
<path d="M260.8 600.2V603.7" stroke="#111" stroke-width="1.3"/>
<text x="260.8" y="612.6" text-anchor="middle" class="t" font-size="6.4">100</text>
<path d="M198.62 568.12V554.37 M197.52 568.12H199.72 M197.52 554.37H199.72" stroke="#22406a" stroke-width="1.3" fill="none"/>
<path d="M205.86 576.37V563.53 M204.76 576.37H206.96 M204.76 563.53H206.96" stroke="#22406a" stroke-width="1.3" fill="none"/>
<path d="M198.62 571.78V561.7 M197.52 571.78H199.72 M197.52 561.7H199.72" stroke="#a1183c" stroke-width="1.3" fill="none"/>
<path d="M205.86 577.28V569.03 M204.76 577.28H206.96 M204.76 569.03H206.96" stroke="#a1183c" stroke-width="1.3" fill="none"/>
<path d="M250.65 596.53V592.87 M249.55 596.53H251.75 M249.55 592.87H251.75" stroke="#22406a" stroke-width="1.3" fill="none"/>
<path d="M233.16 591.95V589.2 M232.06 591.95H234.26 M232.06 589.2H234.26" stroke="#22406a" stroke-width="1.3" fill="none"/>
<path d="M198.62 566.28 C199.83 567.35 202.75 569.64 205.86 572.7 C208.97 575.76 214.43 582.02 217.3 584.62 C220.17 587.21 220.42 587.14 223.06 588.28 C225.7 589.43 230.26 590.65 233.16 591.49 C236.06 592.33 237.55 592.71 240.46 593.33 C243.38 593.94 248.95 594.85 250.65 595.16" stroke="#a1183c" stroke-width="2" fill="none" stroke-linejoin="round"/>
<path d="M198.62 560.78 C199.83 562.01 202.75 564.6 205.86 568.12 C208.97 571.63 214.43 578.81 217.3 581.87 C220.17 584.92 220.42 585 223.06 586.45 C225.7 587.9 230.26 589.51 233.16 590.58 C236.06 591.64 237.55 592.26 240.46 592.87 C243.38 593.48 248.95 594.01 250.65 594.24" stroke="#22406a" stroke-width="2" fill="none" stroke-linejoin="round"/>
<path d="M303.25 542V603.7 M299.65 600.2H383.75" stroke="#111" stroke-width="1.5" fill="none"/>
<path d="M299.65 600.2H303.25" stroke="#111" stroke-width="1.3"/>
<text x="296.65" y="602.8" text-anchor="end" class="t" font-size="6.4">0</text>
<path d="M299.65 589.16H303.25" stroke="#111" stroke-width="1.3"/>
<text x="296.65" y="591.76" text-anchor="end" class="t" font-size="6.4">20</text>
<path d="M299.65 578.12H303.25" stroke="#111" stroke-width="1.3"/>
<text x="296.65" y="580.72" text-anchor="end" class="t" font-size="6.4">40</text>
<path d="M299.65 567.08H303.25" stroke="#111" stroke-width="1.3"/>
<text x="296.65" y="569.68" text-anchor="end" class="t" font-size="6.4">60</text>
<path d="M299.65 556.04H303.25" stroke="#111" stroke-width="1.3"/>
<text x="296.65" y="558.64" text-anchor="end" class="t" font-size="6.4">80</text>
<path d="M299.65 545H303.25" stroke="#111" stroke-width="1.3"/>
<text x="296.65" y="547.6" text-anchor="end" class="t" font-size="6.4">100</text>
<path d="M303.25 600.2V603.7" stroke="#111" stroke-width="1.3"/>
<text x="303.25" y="612.6" text-anchor="middle" class="t" font-size="6.4">0</text>
<path d="M322.5 600.2V603.7" stroke="#111" stroke-width="1.3"/>
<text x="322.5" y="612.6" text-anchor="middle" class="t" font-size="6.4">24</text>
<path d="M341.75 600.2V603.7" stroke="#111" stroke-width="1.3"/>
<text x="341.75" y="612.6" text-anchor="middle" class="t" font-size="6.4">48</text>
<path d="M360.75 600.2V603.7" stroke="#111" stroke-width="1.3"/>
<text x="360.75" y="612.6" text-anchor="middle" class="t" font-size="6.4">72</text>
<path d="M380 600.2V603.7" stroke="#111" stroke-width="1.3"/>
<text x="380" y="612.6" text-anchor="middle" class="t" font-size="6.4">96</text>
<path d="M322.5 596.34V590.26 M321.4 596.34H323.6 M321.4 590.26H323.6" stroke="#22406a" stroke-width="1.3" fill="none"/>
<path d="M360.75 595.78V591.92 M359.65 595.78H361.85 M359.65 591.92H361.85" stroke="#22406a" stroke-width="1.3" fill="none"/>
<path d="M380 589.16V575.36 M378.9 589.16H381.1 M378.9 575.36H381.1" stroke="#a1183c" stroke-width="1.3" fill="none"/>
<path d="M322.5 596.89 L341.75 594.68 L360.75 593.02 L380 582.54" stroke="#a1183c" stroke-width="2" fill="none" stroke-linejoin="round"/>
<path d="M322.5 593.58 L341.75 595.23 L360.75 594.13 L380 581.98" stroke="#22406a" stroke-width="2" fill="none" stroke-linejoin="round"/>
<path d="M428 542V603.7 M424.4 600.2H507.5" stroke="#111" stroke-width="1.5" fill="none"/>
<path d="M424.4 600.2H428" stroke="#111" stroke-width="1.3"/>
<text x="421.4" y="602.8" text-anchor="end" class="t" font-size="6.4">0.0</text>
<path d="M424.4 589.26H428" stroke="#111" stroke-width="1.3"/>
<text x="421.4" y="591.86" text-anchor="end" class="t" font-size="6.4">0.5</text>
<path d="M424.4 578.32H428" stroke="#111" stroke-width="1.3"/>
<text x="421.4" y="580.92" text-anchor="end" class="t" font-size="6.4">1.0</text>
<path d="M424.4 567.38H428" stroke="#111" stroke-width="1.3"/>
<text x="421.4" y="569.98" text-anchor="end" class="t" font-size="6.4">1.5</text>
<path d="M424.4 556.44H428" stroke="#111" stroke-width="1.3"/>
<text x="421.4" y="559.04" text-anchor="end" class="t" font-size="6.4">2.0</text>
<path d="M424.4 545.5H428" stroke="#111" stroke-width="1.3"/>
<text x="421.4" y="548.1" text-anchor="end" class="t" font-size="6.4">2.5</text>
<path d="M428 600.2V603.7" stroke="#111" stroke-width="1.3"/>
<text x="428" y="612.6" text-anchor="middle" class="t" font-size="6.4">0</text>
<path d="M447 600.2V603.7" stroke="#111" stroke-width="1.3"/>
<text x="447" y="612.6" text-anchor="middle" class="t" font-size="6.4">24</text>
<path d="M466.25 600.2V603.7" stroke="#111" stroke-width="1.3"/>
<text x="466.25" y="612.6" text-anchor="middle" class="t" font-size="6.4">48</text>
<path d="M485 600.2V603.7" stroke="#111" stroke-width="1.3"/>
<text x="485" y="612.6" text-anchor="middle" class="t" font-size="6.4">72</text>
<path d="M504.25 600.2V603.7" stroke="#111" stroke-width="1.3"/>
<text x="504.25" y="612.6" text-anchor="middle" class="t" font-size="6.4">96</text>
<path d="M447 585.76V577.01 M445.9 585.76H448.1 M445.9 577.01H448.1" stroke="#2c2756" stroke-width="1.3" fill="none"/>
<path d="M466.25 567.6V558.19 M465.15 567.6H467.35 M465.15 558.19H467.35" stroke="#2c2756" stroke-width="1.3" fill="none"/>
<path d="M504.25 562.57V558.63 M503.15 562.57H505.35 M503.15 558.63H505.35" stroke="#2c2756" stroke-width="1.3" fill="none"/>
<path d="M447 579.41 L466.25 562.13 L485 556.44 L504.25 561.47" stroke="#a1183c" stroke-width="2" fill="none" stroke-linejoin="round"/>
<path d="M447 578.98 L466.25 558.85 L485 555.13 L504.25 560.16" stroke="#22406a" stroke-width="2" fill="none" stroke-linejoin="round"/>
<text x="8.8" y="644.7" font-size="13.6" font-weight="bold" class="b">F</text>
<text x="28.2" y="644.5" font-size="11.8" class="h">NALM-6</text>
<path d="M62.8 655.4V716.9 M59.2 713.4H135" stroke="#111" stroke-width="1.5" fill="none"/>
<path d="M59.2 713.4H62.8" stroke="#111" stroke-width="1.3"/>
<text x="56.2" y="718" text-anchor="end" class="t" font-size="6.4">0.0x10<tspan font-size="3.2" dy="-3">-33</tspan></text>
<path d="M59.2 699.62H62.8" stroke="#111" stroke-width="1.3"/>
<text x="56.2" y="704.23" text-anchor="end" class="t" font-size="6.4">1.0x10<tspan font-size="3.2" dy="-3">06</tspan></text>
<path d="M59.2 685.85H62.8" stroke="#111" stroke-width="1.3"/>
<text x="56.2" y="690.45" text-anchor="end" class="t" font-size="6.4">2.0x10<tspan font-size="3.2" dy="-3">06</tspan></text>
<path d="M59.2 672.07H62.8" stroke="#111" stroke-width="1.3"/>
<text x="56.2" y="676.67" text-anchor="end" class="t" font-size="6.4">3.0x10<tspan font-size="3.2" dy="-3">06</tspan></text>
<path d="M59.2 658.3H62.8" stroke="#111" stroke-width="1.3"/>
<text x="56.2" y="662.9" text-anchor="end" class="t" font-size="6.4">4.0x10<tspan font-size="3.2" dy="-3">06</tspan></text>
<path d="M62.8 713.4V716.9" stroke="#111" stroke-width="1.3"/>
<text x="62.8" y="727.2" text-anchor="middle" class="t" font-size="6.4">0</text>
<path d="M79.6 713.4V716.9" stroke="#111" stroke-width="1.3"/>
<text x="79.6" y="727.2" text-anchor="middle" class="t" font-size="6.4">24</text>
<path d="M97.5 713.4V716.9" stroke="#111" stroke-width="1.3"/>
<text x="97.5" y="727.2" text-anchor="middle" class="t" font-size="6.4">48</text>
<path d="M114.6 713.4V716.9" stroke="#111" stroke-width="1.3"/>
<text x="114.6" y="727.2" text-anchor="middle" class="t" font-size="6.4">72</text>
<path d="M131.9 713.4V716.9" stroke="#111" stroke-width="1.3"/>
<text x="131.9" y="727.2" text-anchor="middle" class="t" font-size="6.4">96</text>
<path d="M97.5 698.25V678.27 M96.4 698.25H98.6 M96.4 678.27H98.6" stroke="#22406a" stroke-width="1.3" fill="none"/>
<path d="M114.6 678.96V667.94 M113.5 678.96H115.7 M113.5 667.94H115.7" stroke="#22406a" stroke-width="1.3" fill="none"/>
<path d="M131.9 678.27V670.7 M130.8 678.27H133 M130.8 670.7H133" stroke="#22406a" stroke-width="1.3" fill="none"/>
<path d="M131.9 683.78V678.27 M130.8 683.78H133 M130.8 678.27H133" stroke="#a1183c" stroke-width="1.3" fill="none"/>
<path d="M114.6 685.85V681.72 M113.5 685.85H115.7 M113.5 681.72H115.7" stroke="#a1183c" stroke-width="1.3" fill="none"/>
<path d="M62.8 706.51 L79.6 706.51 L97.5 698.94 L114.6 683.78 L131.9 680.34" stroke="#a1183c" stroke-width="2" fill="none" stroke-linejoin="round"/>
<path d="M62.8 706.51 L79.6 703.07 L97.5 688.6 L114.6 673.45 L131.9 674.14" stroke="#22406a" stroke-width="2" fill="none" stroke-linejoin="round"/>
<path d="M65 655.4H72" stroke="#a1183c" stroke-width="1.9"/>
<text x="73.5" y="657.7" font-size="6.6">GFP ctrl</text>
<path d="M65 663H72" stroke="#22406a" stroke-width="1.9"/>
<text x="73.5" y="665.3" font-size="6.6">VEGF miRNA</text>
<path d="M189.5 655.5V716.9 M185.9 713.4H265.75" stroke="#111" stroke-width="1.5" fill="none"/>
<path d="M185.9 713.4H189.5" stroke="#111" stroke-width="1.3"/>
<text x="182.9" y="716" text-anchor="end" class="t" font-size="6.4">0</text>
<path d="M185.9 695.02H189.5" stroke="#111" stroke-width="1.3"/>
<text x="182.9" y="697.62" text-anchor="end" class="t" font-size="6.4">20000</text>
<path d="M185.9 676.63H189.5" stroke="#111" stroke-width="1.3"/>
<text x="182.9" y="679.23" text-anchor="end" class="t" font-size="6.4">40000</text>
<path d="M185.9 658.25H189.5" stroke="#111" stroke-width="1.3"/>
<text x="182.9" y="660.85" text-anchor="end" class="t" font-size="6.4">60000</text>
<path d="M189.5 713.4V716.9" stroke="#111" stroke-width="1.3"/>
<text x="189.5" y="727.2" text-anchor="middle" class="t" font-size="6.4">0</text>
<path d="M207.5 713.4V716.9" stroke="#111" stroke-width="1.3"/>
<text x="207.5" y="727.2" text-anchor="middle" class="t" font-size="6.4">24</text>
<path d="M225.5 713.4V716.9" stroke="#111" stroke-width="1.3"/>
<text x="225.5" y="727.2" text-anchor="middle" class="t" font-size="6.4">48</text>
<path d="M244.25 713.4V716.9" stroke="#111" stroke-width="1.3"/>
<text x="244.25" y="727.2" text-anchor="middle" class="t" font-size="6.4">72</text>
<path d="M262.5 713.4V716.9" stroke="#111" stroke-width="1.3"/>
<text x="262.5" y="727.2" text-anchor="middle" class="t" font-size="6.4">96</text>
<path d="M200.8 684.45V676.94 M199.7 684.45H201.9 M199.7 676.94H201.9" stroke="#a1183c" stroke-width="1.3" fill="none"/>
<path d="M200.8 676.94V671.12 M199.7 676.94H201.9 M199.7 671.12H201.9" stroke="#2c2756" stroke-width="1.3" fill="none"/>
<path d="M207.5 690.42V682.38 M206.4 690.42H208.6 M206.4 682.38H208.6" stroke="#a1183c" stroke-width="1.3" fill="none"/>
<path d="M207.5 682.38V679.39 M206.4 682.38H208.6 M206.4 679.39H208.6" stroke="#2c2756" stroke-width="1.3" fill="none"/>
<path d="M200.8 677.74 C201.92 678.66 204.48 680.03 207.5 683.25 C210.52 686.47 215.98 693.97 218.9 697.04 C221.82 700.1 220.85 699.86 225 701.63 C229.15 703.41 238.87 706.46 243.8 707.7 C248.73 708.94 252.8 708.85 254.6 709.08" stroke="#a1183c" stroke-width="2" fill="none" stroke-linejoin="round"/>
<path d="M200.8 676.94 C201.92 677.84 204.48 679.1 207.5 682.38 C210.52 685.65 215.98 693.42 218.9 696.58 C221.82 699.74 220.85 699.5 225 701.31 C229.15 703.13 238.87 706.19 243.8 707.45 C248.73 708.71 252.8 708.63 254.6 708.87" stroke="#3a2d5e" stroke-width="2.4" fill="none" stroke-linejoin="round"/>
<path d="M303.25 655V716.9 M299.65 713.4H383.75" stroke="#111" stroke-width="1.5" fill="none"/>
<path d="M299.65 713.4H303.25" stroke="#111" stroke-width="1.3"/>
<text x="296.65" y="716" text-anchor="end" class="t" font-size="6.4">0</text>
<path d="M299.65 702.37H303.25" stroke="#111" stroke-width="1.3"/>
<text x="296.65" y="704.97" text-anchor="end" class="t" font-size="6.4">20</text>
<path d="M299.65 691.34H303.25" stroke="#111" stroke-width="1.3"/>
<text x="296.65" y="693.94" text-anchor="end" class="t" font-size="6.4">40</text>
<path d="M299.65 680.31H303.25" stroke="#111" stroke-width="1.3"/>
<text x="296.65" y="682.91" text-anchor="end" class="t" font-size="6.4">60</text>
<path d="M299.65 669.28H303.25" stroke="#111" stroke-width="1.3"/>
<text x="296.65" y="671.88" text-anchor="end" class="t" font-size="6.4">80</text>
<path d="M299.65 658.25H303.25" stroke="#111" stroke-width="1.3"/>
<text x="296.65" y="660.85" text-anchor="end" class="t" font-size="6.4">100</text>
<path d="M303.25 713.4V716.9" stroke="#111" stroke-width="1.3"/>
<text x="303.25" y="727.2" text-anchor="middle" class="t" font-size="6.4">0</text>
<path d="M322.5 713.4V716.9" stroke="#111" stroke-width="1.3"/>
<text x="322.5" y="727.2" text-anchor="middle" class="t" font-size="6.4">24</text>
<path d="M341.75 713.4V716.9" stroke="#111" stroke-width="1.3"/>
<text x="341.75" y="727.2" text-anchor="middle" class="t" font-size="6.4">48</text>
<path d="M360.75 713.4V716.9" stroke="#111" stroke-width="1.3"/>
<text x="360.75" y="727.2" text-anchor="middle" class="t" font-size="6.4">72</text>
<path d="M380 713.4V716.9" stroke="#111" stroke-width="1.3"/>
<text x="380" y="727.2" text-anchor="middle" class="t" font-size="6.4">96</text>
<path d="M341.75 708.99V698.51 M340.65 708.99H342.85 M340.65 698.51H342.85" stroke="#a1183c" stroke-width="1.3" fill="none"/>
<path d="M380 702.37V694.65 M378.9 702.37H381.1 M378.9 694.65H381.1" stroke="#a1183c" stroke-width="1.3" fill="none"/>
<path d="M380 705.13V696.86 M378.9 705.13H381.1 M378.9 696.86H381.1" stroke="#22406a" stroke-width="1.3" fill="none"/>
<path d="M360.75 706.78V702.92 M359.65 706.78H361.85 M359.65 702.92H361.85" stroke="#22406a" stroke-width="1.3" fill="none"/>
<path d="M322.5 712.3 L341.75 710.09 L360.75 704.58 L380 701.27" stroke="#22406a" stroke-width="2" fill="none" stroke-linejoin="round"/>
<path d="M322.5 711.75 L341.75 704.02 L360.75 707.33 L380 697.96" stroke="#a1183c" stroke-width="2" fill="none" stroke-linejoin="round"/>
<path d="M428 655.5V716.9 M424.4 713.4H507.5" stroke="#111" stroke-width="1.5" fill="none"/>
<path d="M424.4 713.4H428" stroke="#111" stroke-width="1.3"/>
<text x="421.4" y="716" text-anchor="end" class="t" font-size="6.4">0.0</text>
<path d="M424.4 702.47H428" stroke="#111" stroke-width="1.3"/>
<text x="421.4" y="705.07" text-anchor="end" class="t" font-size="6.4">0.5</text>
<path d="M424.4 691.54H428" stroke="#111" stroke-width="1.3"/>
<text x="421.4" y="694.14" text-anchor="end" class="t" font-size="6.4">1.0</text>
<path d="M424.4 680.61H428" stroke="#111" stroke-width="1.3"/>
<text x="421.4" y="683.21" text-anchor="end" class="t" font-size="6.4">1.5</text>
<path d="M424.4 669.68H428" stroke="#111" stroke-width="1.3"/>
<text x="421.4" y="672.28" text-anchor="end" class="t" font-size="6.4">2.0</text>
<path d="M424.4 658.75H428" stroke="#111" stroke-width="1.3"/>
<text x="421.4" y="661.35" text-anchor="end" class="t" font-size="6.4">2.5</text>
<path d="M428 713.4V716.9" stroke="#111" stroke-width="1.3"/>
<text x="428" y="727.2" text-anchor="middle" class="t" font-size="6.4">0</text>
<path d="M447 713.4V716.9" stroke="#111" stroke-width="1.3"/>
<text x="447" y="727.2" text-anchor="middle" class="t" font-size="6.4">24</text>
<path d="M466.25 713.4V716.9" stroke="#111" stroke-width="1.3"/>
<text x="466.25" y="727.2" text-anchor="middle" class="t" font-size="6.4">48</text>
<path d="M485 713.4V716.9" stroke="#111" stroke-width="1.3"/>
<text x="485" y="727.2" text-anchor="middle" class="t" font-size="6.4">72</text>
<path d="M504.25 713.4V716.9" stroke="#111" stroke-width="1.3"/>
<text x="504.25" y="727.2" text-anchor="middle" class="t" font-size="6.4">96</text>
<path d="M447 689.35 L466.25 672.3 L485 668.59 L504.25 676.24" stroke="#a1183c" stroke-width="2" fill="none" stroke-linejoin="round"/>
<path d="M447 689.35 L466.25 672.96 L485 670.12 L504.25 676.24" stroke="#22406a" stroke-width="2" fill="none" stroke-linejoin="round"/>
<path d="M63 748.5V787.2H102.8" stroke="#111" stroke-width="1.5" fill="none"/>
<path d="M63 743.5L65.9 750.5L63 749.1L60.1 750.5Z" fill="#111"/>
<path d="M107.8 787.2L100.8 784.3L102.2 787.2L100.8 790.1Z" fill="#111"/>
<path d="M189.9 748V787.2H229.3" stroke="#111" stroke-width="1.5" fill="none"/>
<path d="M189.9 743L192.8 750L189.9 748.6L187 750Z" fill="#111"/>
<path d="M234.3 787.2L227.3 784.3L228.7 787.2L227.3 790.1Z" fill="#111"/>
<path d="M318.2 748.3V787.4H357.7" stroke="#111" stroke-width="1.5" fill="none"/>
<path d="M318.2 743.3L321.1 750.3L318.2 748.9L315.3 750.3Z" fill="#111"/>
<path d="M362.7 787.4L355.7 784.5L357.1 787.4L355.7 790.3Z" fill="#111"/>
<path d="M428 747.8V787.2H467.7" stroke="#111" stroke-width="1.5" fill="none"/>
<path d="M428 742.8L430.9 749.8L428 748.4L425.1 749.8Z" fill="#111"/>
<path d="M472.7 787.2L465.7 784.3L467.1 787.2L465.7 790.1Z" fill="#111"/>
<text class="s" transform="translate(83.1 799.2) scale(0.81 1)" text-anchor="middle" font-size="10.3">Hours</text>
<text class="s" transform="translate(209.6 799.2) scale(0.81 1)" text-anchor="middle" font-size="10.3">Hours</text>
<text class="s" transform="translate(337.9 799.2) scale(0.81 1)" text-anchor="middle" font-size="10.3">Hours</text>
<text class="s" transform="translate(447.5 799.2) scale(0.81 1)" text-anchor="middle" font-size="10.3">Hours</text>
<text class="s" transform="translate(57.8 768) rotate(-90) scale(0.79 1)" text-anchor="middle" font-size="10.3">Cell number</text>
<text class="s" transform="translate(184 767.8) rotate(-90) scale(0.84 1)" text-anchor="middle" font-size="10.3">MFI</text>
<text class="s" transform="translate(301.4 767.6) rotate(-90) scale(0.806 1)" text-anchor="middle" font-size="10.3">DNA fragmented</text>
<text class="s" transform="translate(313.9 767.8) rotate(-90) scale(0.79 1)" text-anchor="middle" font-size="10.3">cells [%]</text>
<text class="s" transform="translate(411.4 767.8) rotate(-90) scale(0.79 1)" text-anchor="middle" font-size="10.3">Absorbance</text>
<text class="s" transform="translate(423.4 767.6) rotate(-90) scale(0.86 1)" text-anchor="middle" font-size="10.3">[450nm]</text>
<rect x="0.8" y="0.8" width="518.4" height="808.4" fill="none" stroke="#000" stroke-width="1.6"/>
</svg>
</body></html>
